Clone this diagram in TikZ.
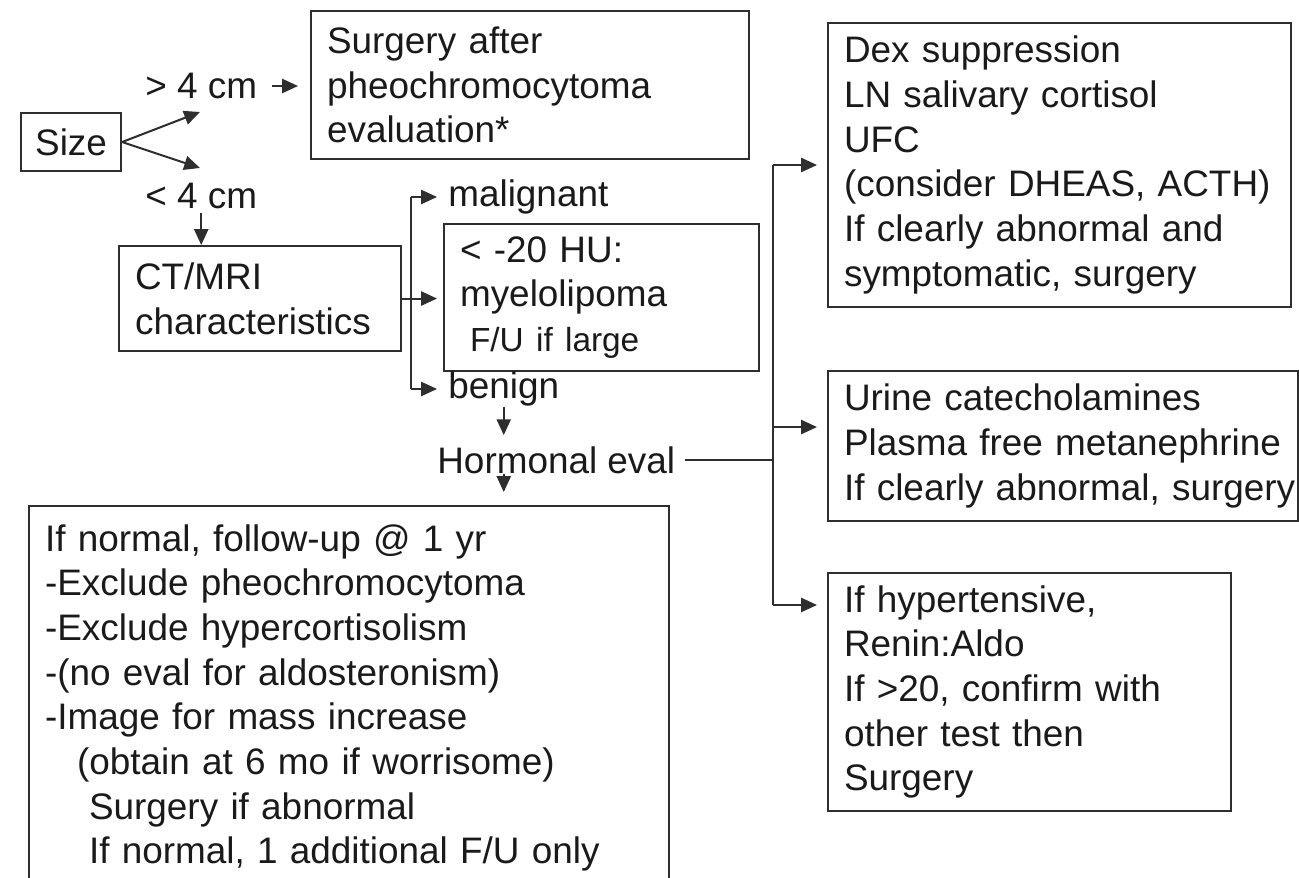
\documentclass[tikz,border=0pt]{standalone}
\usepackage{fontspec}
\setmainfont{Liberation Sans}
\usetikzlibrary{arrows.meta}
\definecolor{linegray}{HTML}{2E2E2E}
\definecolor{textgray}{HTML}{1A1A1A}
\newcommand{\mainsz}{\fontsize{21}{25.4}\selectfont}
\newcommand{\smallsz}{\fontsize{19}{23}\selectfont}
\begin{document}
\begin{tikzpicture}[x=0.02cm,y=-0.02cm,
    box/.style={draw=linegray,line width=1.2pt,anchor=north west,inner sep=0pt,
        text=textgray,font=\mainsz},
    txtbox/.style={box,align=left,execute at begin node={\leftskip=0.32cm}},
    lbl/.style={anchor=west,inner sep=0pt,text=textgray,font=\mainsz},
    arr/.style={draw=linegray,line width=1.15pt,-{Triangle[length=9pt,width=8pt]}},
    bar/.style={draw=linegray,line width=1.15pt}]
    \useasboundingbox[fill=white] (0,0) rectangle (1299,878);

    % size split
    \node[box,minimum width=2cm,minimum height=1.16cm,align=center] (size) at (20,112) {Size};
    \coordinate (gt) at (200,112);
    \coordinate (lt) at (200,168);
    \draw[arr] (size.east) -- (gt);
    \draw[arr] (size.east) -- (lt);
    \node[lbl] (gtlab) at (145,86) {> 4 cm};
    \node[lbl] (ltlab) at (145,196) {< 4 cm};

    % large mass
    \node[txtbox,text width=8.76cm,minimum height=2.96cm] (surg) at (310,10)
        {Surgery after\\pheochromocytoma\\evaluation*};
    \draw[arr,shorten <=0.3cm,shorten >=0.24cm] (gtlab.east) -- (gtlab.east -| surg.west);

    % imaging
    \node[txtbox,text width=5.64cm,minimum height=2.1cm] (ct) at (118,245)
        {CT/MRI\\characteristics};
    \draw[arr,shorten <=2pt] (ltlab.south) -- (ltlab.south |- ct.north);
    \node[txtbox,text width=6.3cm,minimum height=2.94cm] (myelo) at (443,223)
        {< -20 HU:\\myelolipoma\\{\smallsz\hspace*{0.2cm}F/U if large}};
    \node[lbl] (malig) at (448,197) {malignant};
    \node[lbl] (benign) at (448,389) {benign};
    \coordinate (spl) at (411,297);
    \draw[arr,shorten >=0.12cm] (ct.east) -- (ct.east -| myelo.west);
    \draw[bar] (spl |- malig.west) -- (spl |- benign.west);
    \draw[arr,shorten >=0.22cm] (spl |- malig.west) -- (malig.west);
    \draw[arr,shorten >=0.22cm] (spl |- benign.west) -- (benign.west);

    % hormonal work-up
    \node[lbl] (horm) at (437,460) {Hormonal eval};
    \draw[arr,shorten >=0.22cm] (benign.south) -- (benign.south |- horm.north);
    \node[txtbox,text width=12.8cm,inner ysep=0.37cm] (bot) at (28,505)
        {If normal, follow-up @ 1 yr\\-Exclude pheochromocytoma\\-Exclude hypercortisolism\\
         -(no eval for aldosteronism)\\-Image for mass increase\\
         \hspace*{0.64cm}(obtain at 6 mo if worrisome)\\
         \hspace*{0.88cm}Surgery if abnormal\\
         \hspace*{0.88cm}If normal, 1 additional F/U only};
    \draw[arr,shorten >=0.26cm] (benign.south |- horm.south) -- (benign.south |- bot.north);

    % right column
    \node[txtbox,text width=9.26cm,minimum height=5.68cm] (dex) at (827,22)
        {Dex suppression\\LN salivary cortisol\\UFC\\(consider DHEAS, ACTH)\\
         If clearly abnormal and\\symptomatic, surgery};
    \node[txtbox,text width=9.4cm,minimum height=3.0cm] (uri) at (827,370)
        {Urine catecholamines\\Plasma free metanephrine\\If clearly abnormal, surgery};
    \node[txtbox,text width=8.06cm,minimum height=4.76cm] (hyp) at (827,572)
        {If hypertensive,\\Renin:Aldo\\If >20, confirm with\\other test then\\Surgery};

    % bus to the tests
    \coordinate (bus) at (773,460);
    \coordinate (uin) at ([yshift=0.38cm]uri.west);
    \coordinate (hin) at ([yshift=-0.66cm]hyp.north west);
    \draw[bar,shorten <=0.18cm] (horm.east) -- (bus);
    \draw[bar] (bus |- dex.west) -- (bus |- hin);
    \draw[arr,shorten >=0.2cm] (bus |- dex.west) -- (dex.west);
    \draw[arr,shorten >=0.2cm] (bus |- uin) -- (uin);
    \draw[arr,shorten >=0.2cm] (bus |- hin) -- (hin);
\end{tikzpicture}
\end{document}
